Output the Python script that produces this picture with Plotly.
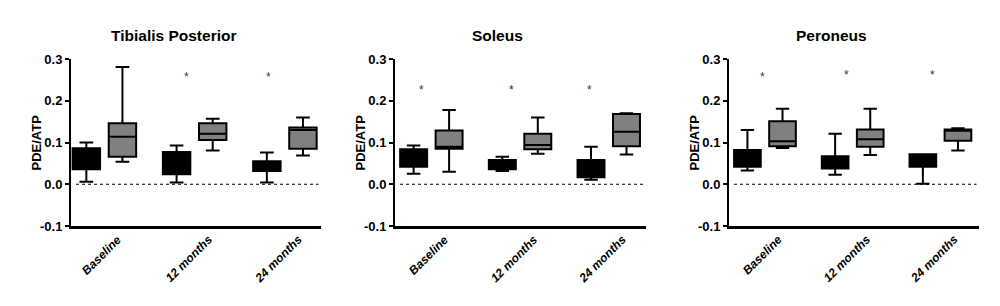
import plotly.graph_objects as go

categories = ["Baseline", "12 months", "24 months"]
panels = ["Tibialis Posterior", "Soleus", "Peroneus"]

# Black boxes (group 1) and grey boxes (group 2): per panel, per category
tp_black = dict(lowerfence=[0.006, 0.004, 0.004], q1=[0.036, 0.024, 0.032],
                median=[0.060, 0.050, 0.044], q3=[0.086, 0.077, 0.055],
                upperfence=[0.100, 0.093, 0.076])
tp_grey = dict(lowerfence=[0.054, 0.081, 0.069], q1=[0.066, 0.106, 0.085],
               median=[0.114, 0.121, 0.130], q3=[0.146, 0.146, 0.136],
               upperfence=[0.281, 0.157, 0.160])
sol_black = dict(lowerfence=[0.025, 0.032, 0.011], q1=[0.042, 0.036, 0.017],
                 median=[0.065, 0.048, 0.035], q3=[0.084, 0.058, 0.058],
                 upperfence=[0.093, 0.066, 0.090])
sol_grey = dict(lowerfence=[0.030, 0.073, 0.071], q1=[0.085, 0.084, 0.091],
                median=[0.090, 0.094, 0.126], q3=[0.129, 0.121, 0.168],
                upperfence=[0.178, 0.160, 0.170])
per_black = dict(lowerfence=[0.033, 0.023, 0.001], q1=[0.042, 0.038, 0.042],
                 median=[0.060, 0.052, 0.055], q3=[0.082, 0.067, 0.072],
                 upperfence=[0.130, 0.121, 0.072])
per_grey = dict(lowerfence=[0.087, 0.070, 0.081], q1=[0.091, 0.090, 0.104],
                median=[0.103, 0.108, 0.128], q3=[0.151, 0.131, 0.131],
                upperfence=[0.181, 0.181, 0.134])

black_sets = [tp_black, sol_black, per_black]
grey_sets = [tp_grey, sol_grey, per_grey]

# significance asterisks: category, y value
star_cats = [["12 months", "24 months"],
             ["Baseline", "12 months", "24 months"],
             ["Baseline", "12 months", "24 months"]]
star_vals = [[0.263, 0.263], [0.232, 0.232, 0.232], [0.264, 0.268, 0.268]]
star_xshift = [[-8, -16], [-10, -9, -19], [-2, -6, -8]]

y_ticks = [-0.1, 0.0, 0.1, 0.2, 0.3]
y_ticktext = ["-0.1", "0.0", "0.1", "0.2", "0.3"]

# layout (styles/positions); OFF compensates the page's default body margin
W, H = 1000, 306
OFF = 8
x_domains = [(71 - OFF, 321 - OFF), (395 - OFF, 646 - OFF), (729 - OFF, 979 - OFF)]
x_ranges = [[-0.37, 2.40], [-0.41, 2.42], [-0.41, 2.44]]
y_top_px, y_bot_px = 59 - OFF, 226 - OFF
FONT = "Liberation Sans, Arial, sans-serif"

fig = go.Figure()
for i in range(3):
    xa = "x" if i == 0 else f"x{i+1}"
    ya = "y" if i == 0 else f"y{i+1}"
    for stats, fill in ((black_sets[i], "#000000"), (grey_sets[i], "#808080")):
        fig.add_trace(go.Box(
            x=categories, q1=stats["q1"], median=stats["median"], q3=stats["q3"],
            lowerfence=stats["lowerfence"], upperfence=stats["upperfence"],
            fillcolor=fill, line=dict(color="black", width=2),
            whiskerwidth=0.5, boxpoints=False, showlegend=False,
            xaxis=xa, yaxis=ya, offsetgroup=fill))

ydom = [(H - y_bot_px) / H, (H - y_top_px) / H]
layout = dict(
    width=W, height=H, autosize=False,
    margin=dict(l=0, r=0, t=0, b=0, pad=0, autoexpand=False),
    paper_bgcolor="white", plot_bgcolor="white",
    boxmode="group", boxgap=0.2, boxgroupgap=0.24,
    font=dict(family=FONT, color="black"),
    showlegend=False,
)
annotations = []
shapes = []
for i in range(3):
    sfx = "" if i == 0 else str(i + 1)
    x0, x1 = x_domains[i]
    layout["xaxis" + sfx] = dict(
        domain=[x0 / W, x1 / W], anchor="y" + sfx, type="category",
        categoryorder="array", categoryarray=categories,
        range=x_ranges[i], showline=True, linecolor="black", linewidth=3,
        showticklabels=False, ticks="", showgrid=False, zeroline=False,
        automargin=False, fixedrange=True)
    layout["yaxis" + sfx] = dict(
        domain=ydom, anchor="x" + sfx, range=[-0.1, 0.3],
        tickvals=y_ticks, ticktext=y_ticktext, ticks="outside", ticklen=4,
        tickwidth=2, tickcolor="black", showline=True, linecolor="black",
        linewidth=2, showgrid=False, zeroline=False, automargin=False,
        tickfont=dict(family=FONT, size=13, color="black", weight="bold"),
        fixedrange=True)
    # zero dotted line
    shapes.append(dict(type="line", xref=f"x{sfx} domain", yref="y" + sfx,
                       x0=0.02, x1=0.99, y0=0, y1=0,
                       line=dict(color="black", width=1.2, dash="dot")))
    # panel title
    annotations.append(dict(text=panels[i], xref="paper", yref="paper",
                            x=(x0 + x1) / 2 / W - 22.5 / W, y=(H - (35 - OFF)) / H,
                            showarrow=False, xanchor="center", yanchor="middle",
                            font=dict(family=FONT, size=15.5, weight="bold")))
    # y axis title
    annotations.append(dict(text="PDE/ATP", xref="paper", yref="paper",
                            x=(x0 - 35) / W, y=(H - (y_top_px + y_bot_px) / 2) / H,
                            textangle=-90, showarrow=False,
                            xanchor="center", yanchor="middle",
                            font=dict(family=FONT, size=13, weight="bold")))
    # category labels
    for c in categories:
        annotations.append(dict(text=c, xref="x" + sfx, yref="paper",
                                x=c, y=(H - (230 - OFF)) / H, xshift=23,
                                textangle=-45, showarrow=False,
                                xanchor="right", yanchor="top",
                                font=dict(family=FONT, size=12, weight="bold",
                                          style="italic")))
    # asterisks
    for c, v, s in zip(star_cats[i], star_vals[i], star_xshift[i]):
        annotations.append(dict(text="*", xref="x" + sfx, yref="y" + sfx,
                                x=c, y=v, xshift=s, yshift=-3, showarrow=False,
                                xanchor="center", yanchor="middle",
                                font=dict(family=FONT, size=12, color="#333333")))

layout["annotations"] = annotations
layout["shapes"] = shapes
fig.update_layout(**layout)
fig.write_html("out.html")
